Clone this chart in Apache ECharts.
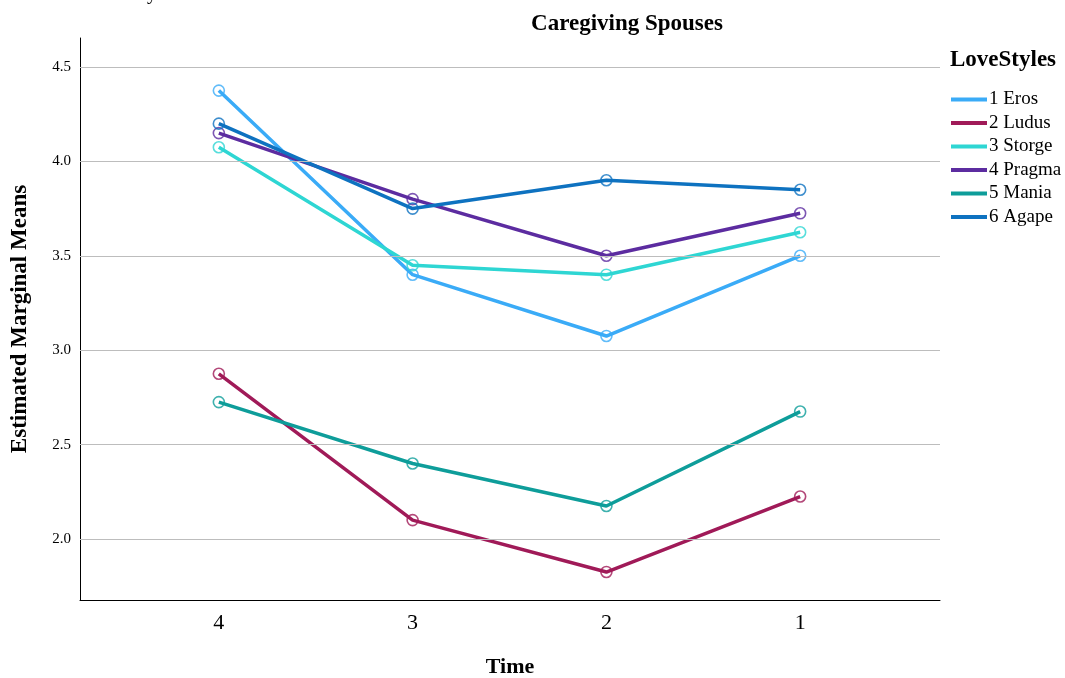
<!DOCTYPE html>
<html>
<head>
<meta charset="utf-8">
<script src="https://cdn.jsdelivr.net/npm/echarts@6/dist/echarts.min.js"></script>
<style>html,body{margin:0;padding:0;background:#fff;}#c{width:1065px;height:678px;}</style>
</head>
<body>
<div id="c"></div>
<script>
const categories = ['4', '3', '2', '1'];
const seriesNames = ['1 Eros', '2 Ludus', '3 Storge', '4 Pragma', '5 Mania', '6 Agape'];
const eros   = [4.375, 3.40, 3.075, 3.50];
const ludus  = [2.875, 2.10, 1.825, 2.225];
const storge = [4.075, 3.45, 3.40, 3.625];
const pragma = [4.15, 3.80, 3.50, 3.725];
const mania  = [2.725, 2.40, 2.175, 2.675];
const agape  = [4.20, 3.75, 3.90, 3.85];
const yTicks = [2.0, 2.5, 3.0, 3.5, 4.0, 4.5];

const allValues = [eros, ludus, storge, pragma, mania, agape];
const colors = ['#3aabf7', '#a01a58', '#2ed6d3', '#5c2ca0', '#0e9d9a', '#0e72c0'];
const serif = '"Liberation Serif", "DejaVu Serif", serif';

const series = seriesNames.map((name, i) => ({
  name: name,
  type: 'line',
  z: 3,
  data: allValues[i].map((v, j) => [j, v]),
  color: colors[i],
  lineStyle: {width: 3.5, color: colors[i]},
  symbol: 'circle',
  symbolSize: 11,
  showSymbol: true,
  itemStyle: {color: 'rgba(255,255,255,0)', borderColor: colors[i], borderWidth: 1.6, opacity: 0.8},
  emphasis: {disabled: true}
}));
// grid lines at the tick values
series.push({
  name: 'grid', type: 'line', data: [], silent: true, z: 1,
  markLine: {
    silent: true, symbol: ['none', 'none'], animation: false,
    label: {show: false},
    lineStyle: {color: '#bdbdbd', width: 1, type: 'solid'},
    emphasis: {disabled: true},
    data: yTicks.map(v => ({yAxis: v}))
  }
});

const chart = echarts.init(document.getElementById('c'));
chart.setOption({
  animation: false,
  backgroundColor: '#fff',
  title: {
    text: 'Caregiving Spouses',
    left: 622, top: 8, textAlign: 'center',
    textStyle: {fontFamily: serif, fontWeight: 'bold', fontSize: 23, color: '#000'}
  },
  graphic: [
    {type: 'text', x: 950, y: 49, style: {text: 'LoveStyles', font: 'bold 23px ' + serif, fill: '#000'}},
    {type: 'text', x: 147, y: -16, style: {text: 'y', font: '20px ' + serif, fill: '#000'}}
  ],
  legend: {
    orient: 'vertical',
    left: 946, top: 85,
    itemWidth: 36, itemHeight: 4, itemGap: 4.5,
    icon: 'rect',
    itemStyle: {borderWidth: 0},
    textStyle: {fontFamily: serif, fontSize: 19, color: '#000', padding: [0, 0, 0, -3]},
    data: seriesNames.map((n, i) => ({name: n, itemStyle: {color: colors[i], borderWidth: 0, opacity: 1}}))
  },
  grid: {left: 80, right: 125, top: 38, bottom: 78, containLabel: false, outerBoundsMode: 'none'},
  xAxis: {
    type: 'value',
    min: -139 / 194, max: 3 + 140 / 194,
    name: 'Time', nameLocation: 'middle', nameGap: 56,
    nameTextStyle: {fontFamily: serif, fontWeight: 'bold', fontSize: 22, color: '#000'},
    axisLine: {show: true, onZero: false, lineStyle: {color: '#000', width: 1}},
    axisTick: {show: false},
    splitLine: {show: false},
    axisLabel: {
      customValues: [0, 1, 2, 3],
      formatter: v => categories[Math.round(v)],
      fontFamily: serif, fontSize: 22, color: '#000', margin: 12
    }
  },
  yAxis: {
    type: 'value',
    min: 2.0 - 61 / 188.8, max: 4.5 + 29 / 188.8,
    name: 'Estimated Marginal Means', nameLocation: 'middle', nameGap: 48,
    nameTextStyle: {fontFamily: serif, fontWeight: 'bold', fontSize: 23, color: '#000'},
    axisLine: {show: true, onZero: false, lineStyle: {color: '#000', width: 1}},
    axisTick: {show: false},
    axisLabel: {
      customValues: yTicks,
      formatter: v => v.toFixed(1),
      fontFamily: serif, fontSize: 15, color: '#000', margin: 9
    },
    splitLine: {show: false}
  },
  series: series
});
</script>
</body>
</html>
